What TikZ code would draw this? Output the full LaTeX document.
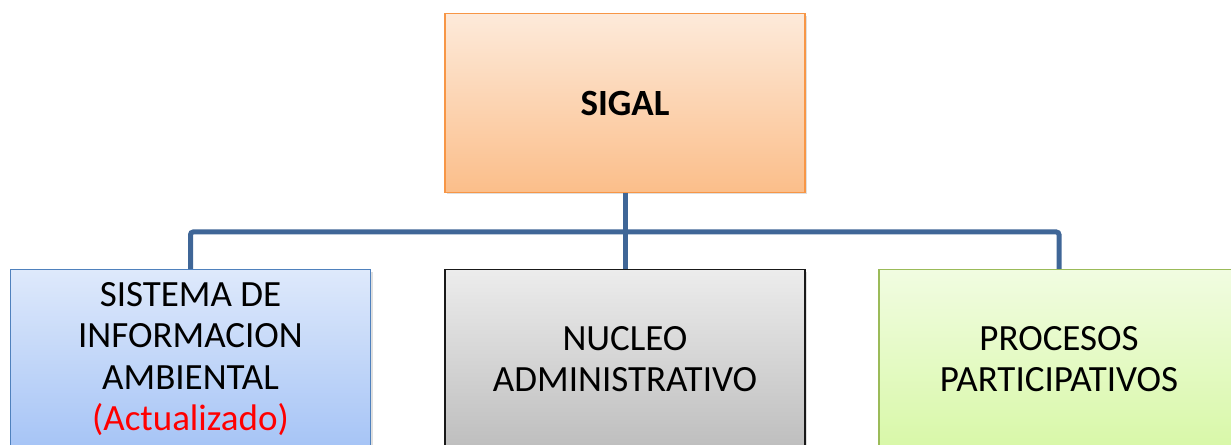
\documentclass[tikz,border=0pt]{standalone}
\usepackage{fontspec}
\setmainfont{Carlito}
\usetikzlibrary{shadows}
\definecolor{linkblue}{HTML}{3F6697}

\begin{document}
\begin{tikzpicture}
  [x=0.75pt,y=-0.75pt,
   every node/.style={rectangle,minimum width=270pt,minimum height=134pt,inner sep=0pt,
     align=center,font=\fontsize{27.75}{30.9}\selectfont,line width=1pt,
     drop shadow={opacity=0.25,shadow xshift=1.5pt,shadow yshift=-1.5pt}},
   orangebox/.style={draw={rgb,255:red,247;green,150;blue,70},shading=axis,
     top color={rgb,255:red,253;green,234;blue,218},bottom color={rgb,255:red,251;green,190;blue,138}},
   bluebox/.style={draw={rgb,255:red,79;green,129;blue,189},shading=axis,
     top color={rgb,255:red,222;green,233;blue,251},bottom color={rgb,255:red,166;green,196;blue,246}},
   graybox/.style={draw={rgb,255:red,25;green,25;blue,25},shading=axis,
     top color={rgb,255:red,236;green,236;blue,236},bottom color={rgb,255:red,190;green,190;blue,190}},
   greenbox/.style={draw={rgb,255:red,155;green,187;blue,89},shading=axis,
     top color={rgb,255:red,241;green,252;blue,225},bottom color={rgb,255:red,216;green,248;blue,168}},
   link/.style={draw=linkblue,line width=3.75pt,rounded corners=2pt}]
  \useasboundingbox (0,0) rectangle (1231,445);

  \node[orangebox] (sigal) at (625,103) {\textbf{SIGAL}};
  \node[bluebox] (sia) at (190.5,359) {SISTEMA DE\\INFORMACION\\AMBIENTAL\\\textcolor{red}{(Actualizado)}};
  \node[graybox] (nucleo) at (625,359) {NUCLEO\\ADMINISTRATIVO};
  \node[greenbox] (procesos) at (1059,359) {PROCESOS\\PARTICIPATIVOS};

  \coordinate (hub) at (625,232);

  \draw[link] (sigal.south) -- (hub);
  \draw[link] (sia.north) |- (hub) -| (procesos.north);
  \draw[link] (hub) -- (nucleo.north);
\end{tikzpicture}
\end{document}
